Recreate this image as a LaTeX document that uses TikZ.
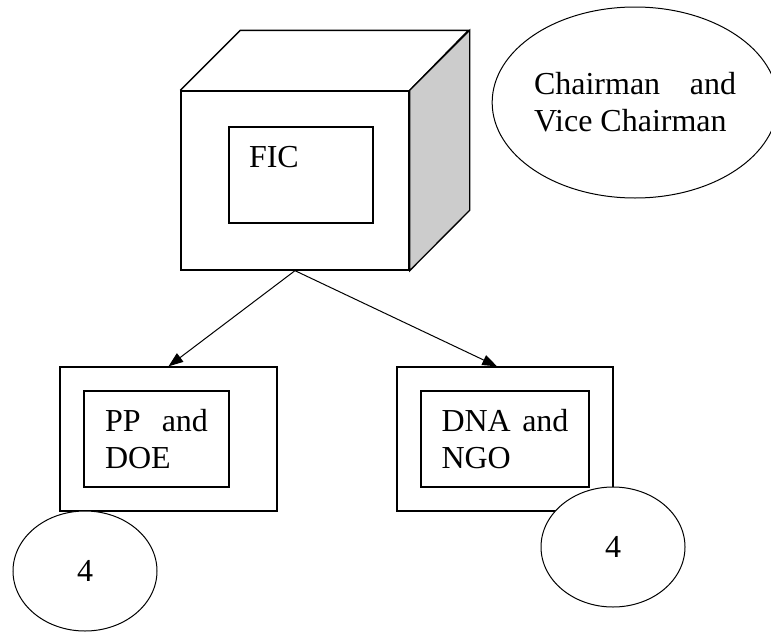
\documentclass[tikz,border=0pt]{standalone}
\usepackage{fontspec}
\setmainfont{Liberation Serif}
\usepackage{tikz}
\usetikzlibrary{shapes.geometric,arrows.meta}
\tikzset{outer box/.style={draw,line width=1pt,minimum width=162.75pt,minimum height=108pt,inner sep=0pt},
	inner box/.style={draw,line width=1pt,minimum height=72pt,inner sep=0pt,align=left},
	oval/.style={draw,ellipse,line width=0.75pt,fill=white,inner sep=0pt},
	link/.style={line width=0.75pt,-{Triangle[length=11pt,width=8pt]}}}

\begin{document}
\begin{tikzpicture}
	[x=0.75pt,y=-0.75pt,every node/.style={font=\fontsize{24}{27.75}\selectfont}]
	\useasboundingbox (0,0) rectangle (771,632);
	% the box at the top
	\node [draw,line width=1pt,minimum width=171pt,minimum height=134.25pt,inner sep=0pt] (cube) at (295,180.5) {};
	\draw [line width=1pt] (cube.north west) -- ++(60,-60) -- ++(228,0) -- (cube.north east);
	\filldraw [line width=1pt,fill=black!20] (cube.north east) -- ++(60,-60) -- ++(0,180) -- (cube.south east) -- cycle;
	\node [inner box,minimum width=108pt,text width=78pt] (fic) at (301,175) {FIC\\ \mbox{}};
	% chairmen
	\node [oval,minimum width=213pt,minimum height=143.25pt,text width=151.5pt,align=justify] (chair) at (635,102.5)
		{Chairman \hfill and\\Vice Chairman};
	% the two groups below
	\node [outer box] (pp) at (168.5,439) {};
	\node [inner box,minimum width=108.75pt,text width=77.25pt] (ppdoe) at (156.5,439) {PP \hfill and\\DOE};
	\node [outer box,minimum width=162pt] (dna) at (505,439) {};
	\node [inner box,minimum width=126pt,text width=95.25pt] (dnango) at (505,439) {DNA \hfill and\\NGO};
	\node [oval,minimum width=108pt,minimum height=90pt] (left) at (85,571) {4};
	\node [oval,minimum width=108pt,minimum height=90pt] (right) at (613,547) {4};
	\draw [link] (cube.south) -- (pp.north);
	\draw [link] (cube.south) -- ([xshift=-6pt]dna.north);
\end{tikzpicture}
\end{document}
